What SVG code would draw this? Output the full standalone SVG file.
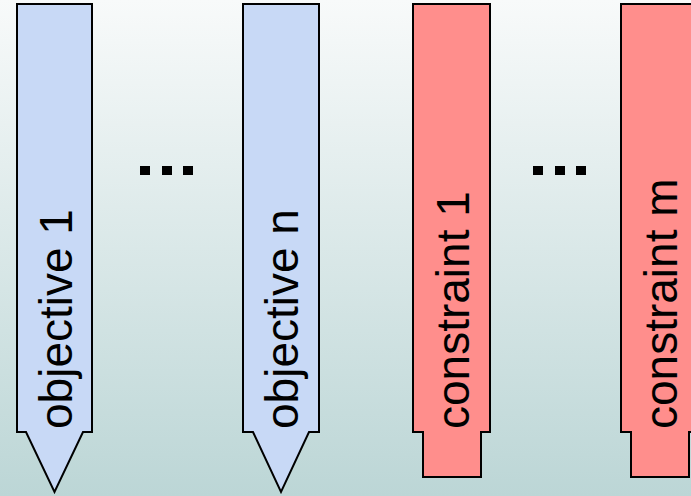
<svg xmlns="http://www.w3.org/2000/svg" width="691" height="496" viewBox="0 0 691 496">
  <defs>
    <linearGradient id="bg" x1="0" y1="0" x2="0" y2="1">
      <stop offset="0" stop-color="#f8fafa"/>
      <stop offset="1" stop-color="#bcd6d6"/>
    </linearGradient>
  </defs>
  <style>
    .shape { stroke: #000; stroke-width: 2; stroke-linejoin: miter; }
    .obj { fill: #c8d9f6; }
    .con { fill: #ff8e8c; }
    .lbl { font-family: "Liberation Sans", Arial, Helvetica, sans-serif; font-size: 46px; fill: #000; }
    .dot { fill: #000; }
  </style>

  <rect width="691" height="496" fill="url(#bg)"/>

  <!-- objective 1 -->
  <g id="objective1">
    <path class="shape obj" d="M17,4 H92 V432 H83 L54.5,492 L26,432 H17 Z"/>
    <text class="lbl" transform="translate(72,429) rotate(-90)">objective 1</text>
  </g>

  <!-- ellipsis between objectives -->
  <g id="dots1">
    <rect class="dot" x="140" y="166" width="10" height="9"/>
    <rect class="dot" x="162" y="166" width="10" height="9"/>
    <rect class="dot" x="183" y="166" width="10" height="9"/>
  </g>

  <!-- objective n -->
  <g id="objectiveN">
    <path class="shape obj" d="M243,4 H319 V432 H309 L281,492 L253,432 H243 Z"/>
    <text class="lbl" transform="translate(298,429) rotate(-90)">objective n</text>
  </g>

  <!-- constraint 1 -->
  <g id="constraint1">
    <path class="shape con" d="M413,4 H490 V432 H481 V477 H423 V432 H413 Z"/>
    <text class="lbl" transform="translate(469,429) rotate(-90)">constraint 1</text>
  </g>

  <!-- ellipsis between constraints -->
  <g id="dots2">
    <rect class="dot" x="533" y="166" width="10" height="9"/>
    <rect class="dot" x="555" y="166" width="10" height="9"/>
    <rect class="dot" x="576" y="166" width="10" height="9"/>
  </g>

  <!-- constraint m -->
  <g id="constraintM">
    <path class="shape con" d="M621,4 H698 V432 H689 V477 H631 V432 H621 Z"/>
    <text class="lbl" transform="translate(677,429) rotate(-90)">constraint m</text>
  </g>

  <g id="connectors"/>
</svg>
